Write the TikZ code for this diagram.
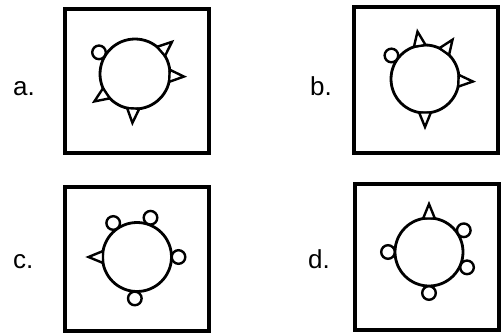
\documentclass[tikz,border=0pt]{standalone}
\usepackage{fontspec}
\setmainfont{Liberation Sans}
\usetikzlibrary{calc, positioning}

\tikzset{
	kuang/.style={draw, line width=4pt, minimum width=144pt, minimum height=144pt, inner sep=0pt},
	dayuan/.style={line width=2.8pt},
	xiao/.style={line width=2.4pt, fill=white, line join=miter},
	biaohao/.style={anchor=base west, inner sep=0pt, font=\fontsize{26}{30}\selectfont}
}
% 小圆：#1 圆心, #2 角度, #3 大圆半径
\newcommand{\xiaoyuan}[3]{\draw[xiao] ($(#1)+(#2:#3+7)$) circle (6.8pt);}
% 小三角：#1 圆心, #2 角度, #3 大圆半径
\newcommand{\sanjiao}[3]{\draw[xiao] ($(#1)+(#2+10:#3)$) -- ($(#1)+(#2:#3+14)$) -- ($(#1)+(#2-10:#3)$) -- cycle;}

\begin{document}
\begin{tikzpicture}[x=1pt, y=1pt]
	\useasboundingbox (0,0) rectangle (502,333);
	% 方框
	\node[kuang] (ka) at (136.5,252) {};
	\node[kuang, minimum height=146pt] (kb) at (426,253) {};
	\node[kuang] (kc) at (137,74.5) {};
	\node[kuang, minimum height=146pt] (kd) at (426.5,76) {};
	% 标号
	\node[biaohao] (la) at (13,238) {a.};
	\node[biaohao] (lb) at (310,238) {b.};
	\node[biaohao] (lc) at (13,65) {c.};
	\node[biaohao] (ld) at (308,65) {d.};
	% 大圆圆心
	\coordinate (oa) at (135,259);
	\coordinate (ob) at (425,254);
	\coordinate (oc) at (137,76);
	\coordinate (od) at (429,81);
	% a
	\draw[dayuan] (oa) circle (35pt);
	\xiaoyuan{oa}{149}{35}
	\foreach \t in {41,-3,214,267} {\sanjiao{oa}{\t}{35}}
	% b
	\draw[dayuan] (ob) circle (34pt);
	\xiaoyuan{ob}{145}{34}
	\foreach \t in {99,55,-3,270} {\sanjiao{ob}{\t}{34}}
	% c
	\draw[dayuan] (oc) circle (34.5pt);
	\foreach \t in {125,71,0,267} {\xiaoyuan{oc}{\t}{34.5}}
	\sanjiao{oc}{180}{34.5}
	% d
	\draw[dayuan] (od) circle (34pt);
	\foreach \t in {32,-22,270,180} {\xiaoyuan{od}{\t}{34}}
	\sanjiao{od}{90}{34}
\end{tikzpicture}
\end{document}
